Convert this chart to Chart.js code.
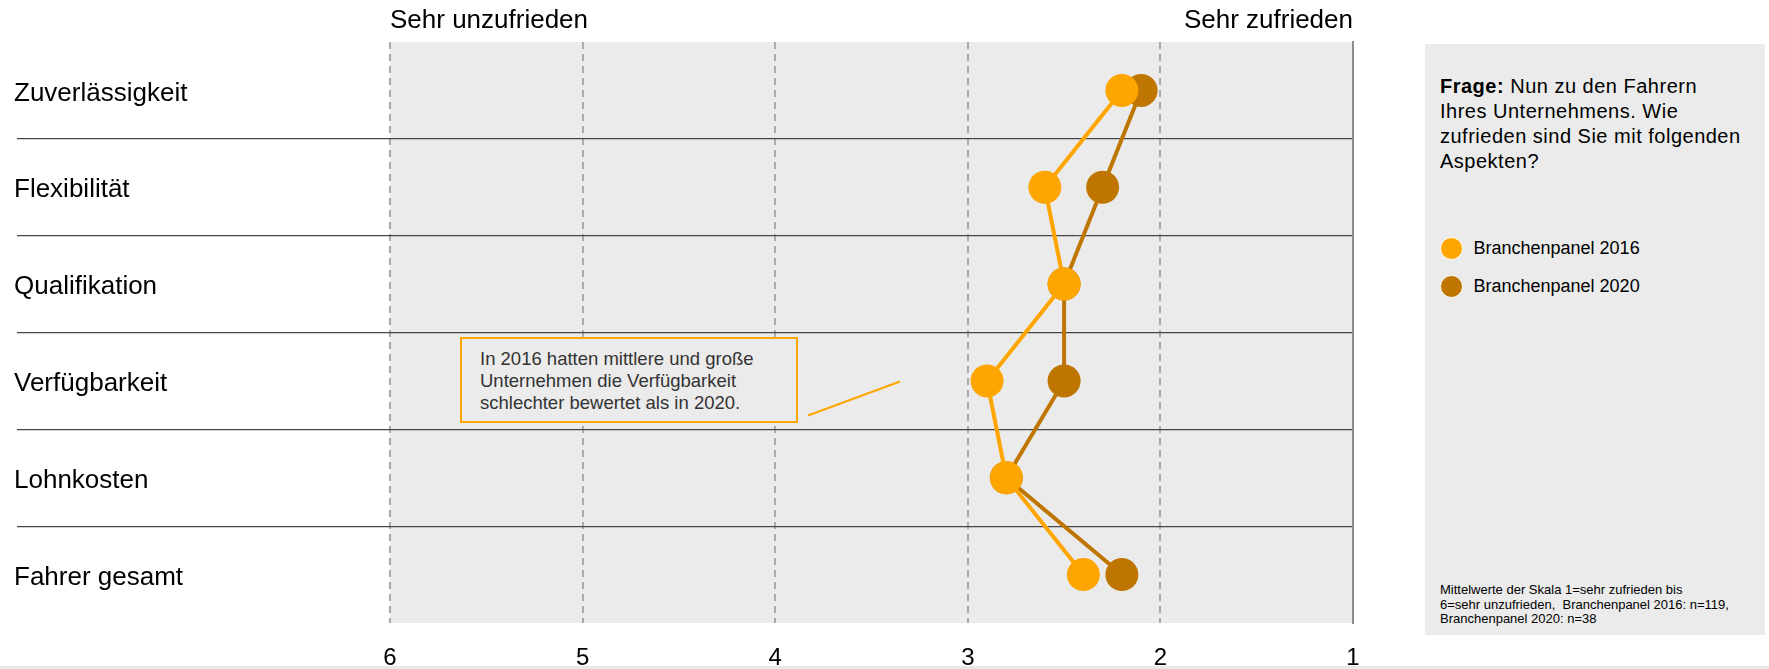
<!DOCTYPE html>
<html>
<head>
<meta charset="utf-8">
<script src="https://cdn.jsdelivr.net/npm/chart.js@4/dist/chart.umd.min.js"></script>
<style>
body { margin: 0; background: #fff; font-family: "Liberation Sans", Arial, sans-serif; }
#wrap { position: relative; width: 1769px; height: 669px; overflow: hidden; }
#chart { position: absolute; left: 0; top: 0; }
#panel { position: absolute; left: 1425px; top: 44px; width: 340px; height: 591px; background: #ebebeb; }
#frage { position: absolute; left: 15px; top: 30px; width: 322px; font-size: 20px; line-height: 25px; letter-spacing: 0.5px; color: #000; }
#legend { position: absolute; left: 15px; top: 186px; }
.item { display: flex; align-items: center; height: 37.7px; font-size: 18px; color: #000; white-space: nowrap; }
.dot { width: 21px; height: 21px; border: 1.5px solid #fff; border-radius: 50%; margin-right: 10.5px; }
#footnote { position: absolute; left: 15px; top: 539px; font-size: 13px; line-height: 14.5px; color: #000; white-space: nowrap; }
#note { position: absolute; left: 460px; top: 337px; width: 338px; height: 86px; box-sizing: border-box; border: 2px solid #FFA500; background: #ebebeb; padding: 9px 0 0 18px; font-size: 18.5px; line-height: 22px; color: #333; white-space: nowrap; }
#leader { position: absolute; left: 0; top: 0; pointer-events: none; }
#bottomline { position: absolute; left: 0; top: 666px; width: 1769px; height: 3px; background: #e8e8e8; }
</style>
</head>
<body>
<div id="wrap">
  <canvas id="chart" width="1769" height="669"></canvas>
  <svg id="leader" width="1769" height="669"><line x1="808" y1="415.5" x2="900" y2="381.5" stroke="#FFA500" stroke-width="2"/></svg>
  <div id="note">In 2016 hatten mittlere und große<br>Unternehmen die Verfügbarkeit<br>schlechter bewertet als in 2020.</div>
  <div id="panel">
    <div id="frage"><b>Frage:</b> Nun zu den Fahrern<br>Ihres Unternehmens. Wie<br>zufrieden sind Sie mit folgenden<br>Aspekten?</div>
    <div id="legend"></div>
    <div id="footnote">Mittelwerte der Skala 1=sehr zufrieden bis<br>6=sehr unzufrieden,&nbsp; Branchenpanel 2016: n=119,<br>Branchenpanel 2020: n=38</div>
  </div>
  <div id="bottomline"></div>
</div>
<script>
const categories = ['Zuverlässigkeit', 'Flexibilität', 'Qualifikation', 'Verfügbarkeit', 'Lohnkosten', 'Fahrer gesamt']
const values2016 = [2.2, 2.6, 2.5, 2.9, 2.8, 2.4]
const values2020 = [2.1, 2.3, 2.5, 2.5, 2.8, 2.2]
const seriesNames = ['Branchenpanel 2016', 'Branchenpanel 2020']
const seriesColors = ['#FFA500', '#BF7600']
const scaleMin = 1
const scaleMax = 6
const scaleEndLabels = ['Sehr unzufrieden', 'Sehr zufrieden']

const plotBackground = {
    id: 'plotBackground',
    beforeDraw(chart) {
        const { ctx, chartArea: a } = chart
        ctx.save()
        ctx.fillStyle = '#ebebeb'
        ctx.fillRect(a.left, a.top, a.right - a.left, a.bottom - a.top)
        ctx.restore()
    },
}

// separators between categories, not at the top/bottom edge
const sepColor = (c) => (c.type !== 'tick' || c.index === 0 ? 'rgba(0,0,0,0)' : '#474747')

function render_chart() {
    Chart.defaults.font.family = '"Liberation Sans", Arial, sans-serif'

    const data = {
        labels: categories,
        datasets: [
            { label: seriesNames[0], data: values2016 },
            { label: seriesNames[1], data: values2020 },
        ].map((ds, i) => ({
            ...ds,
            xAxisID: 'x',
            yAxisID: 'y',
            borderColor: seriesColors[i],
            backgroundColor: seriesColors[i],
            borderWidth: 4,
            pointRadius: 16.5,
            pointHoverRadius: 16.5,
            pointBorderWidth: 0,
            tension: 0,
        })),
    }

    const config = {
        type: 'line',
        data: data,
        options: {
            indexAxis: 'y',
            responsive: false,
            animation: false,
            layout: { padding: { left: 14, right: 416, top: 0, bottom: 0 } },
            plugins: { legend: { display: false }, tooltip: { enabled: false } },
            scales: {
                x: {
                    type: 'linear',
                    position: 'bottom',
                    min: scaleMin,
                    max: scaleMax,
                    reverse: true,
                    afterFit: (s) => { s.height = 46 },
                    border: { display: false, dash: [7, 5] },
                    grid: {
                        color: (c) => (c.tick && c.tick.value === scaleMin ? 'rgba(0,0,0,0)' : '#ababab'),
                        lineWidth: 2,
                        drawTicks: false,
                    },
                    ticks: { stepSize: 1, padding: 21, color: '#000', font: { size: 24 }, maxRotation: 0, autoSkip: false },
                },
                xTop: {
                    type: 'category',
                    axis: 'x',
                    position: 'top',
                    labels: scaleEndLabels,
                    offset: false,
                    afterFit: (s) => { s.height = 42 },
                    border: { display: false },
                    grid: { display: false, drawTicks: false },
                    ticks: {
                        padding: 6,
                        align: 'inner',
                        color: '#000',
                        font: { size: 26 },
                        maxRotation: 0,
                        minRotation: 0,
                        autoSkip: false,
                    },
                },
                y: {
                    type: 'category',
                    position: 'left',
                    offset: true,
                    afterFit: (s) => { s.width = 376 },
                    border: { display: false },
                    grid: { offset: true, color: sepColor, tickColor: sepColor, lineWidth: 1.3, tickLength: 373 },
                    ticks: { crossAlign: 'far', labelOffset: 3, color: '#000', font: { size: 26 }, autoSkip: false },
                },
                yRight: {
                    type: 'category',
                    axis: 'y',
                    position: 'right',
                    offset: true,
                    afterFit: (s) => { s.width = 0 },
                    border: { display: true, color: '#8c8c8c', width: 2 },
                    grid: { drawOnChartArea: false, drawTicks: false },
                    ticks: { display: false },
                },
            },
        },
        plugins: [plotBackground],
    }

    const myChart = new Chart(document.getElementById('chart'), config)

    const legend = document.getElementById('legend')
    myChart.data.datasets.forEach((ds) => {
        const item = document.createElement('div')
        item.className = 'item'
        const dot = document.createElement('span')
        dot.className = 'dot'
        dot.style.background = ds.backgroundColor
        item.appendChild(dot)
        item.appendChild(document.createTextNode(ds.label))
        legend.appendChild(item)
    })
}

document.addEventListener('DOMContentLoaded', render_chart)
</script>
</body>
</html>
